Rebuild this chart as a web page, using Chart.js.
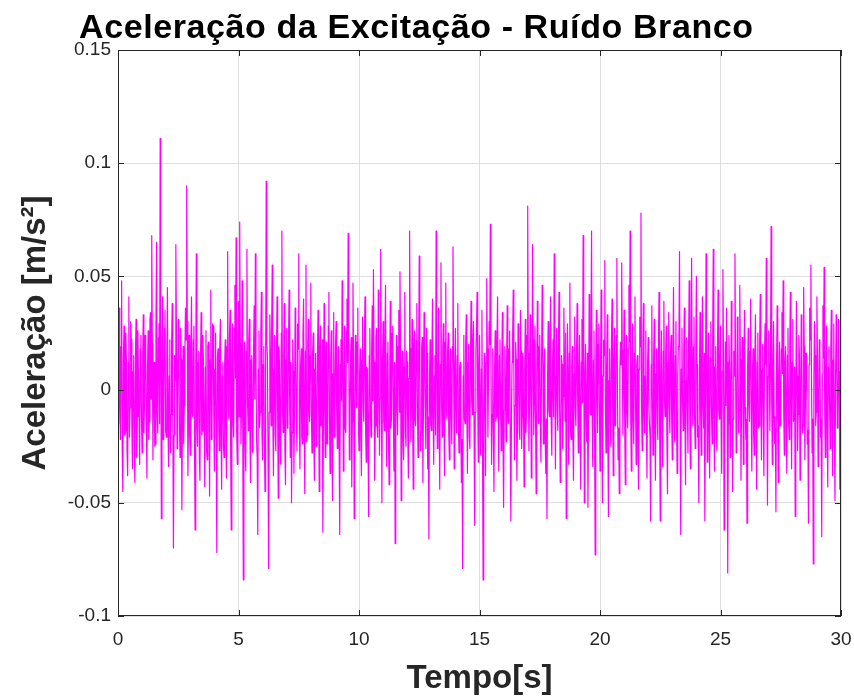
<!DOCTYPE html>
<html>
<head>
<meta charset="utf-8">
<script src="https://cdn.jsdelivr.net/npm/chart.js@4"></script>
<style>
  html, body { margin: 0; padding: 0; background: #fff; }
  #wrap { width: 854px; height: 697px; }
</style>
</head>
<body>
<div id="wrap"><canvas id="noiseChart" width="854" height="697"></canvas></div>
<script>
// ===== data (m/s^2, one sample every 0.025 s) =====
const chartTitle = 'Aceleração da Excitação - Ruído Branco';
const xLabel = 'Tempo[s]';
const yLabel = 'Aceleração [m/s²]';
const xTicks = [0, 5, 10, 15, 20, 25, 30];
const yTicks = [-0.1, -0.05, 0, 0.05, 0.1, 0.15];
const sampleStep = 0.025;

// one row = one second of signal
const accel = [
  -0.015, 0.010, 0.036, -0.008, -0.022, 0.019, 0.048, -0.026, -0.045, 0.014, 0.028, -0.020, -0.018, 0.025, 0.012, -0.027, -0.038, 0.012, 0.041, -0.021, -0.008, 0.030, 0.022, -0.016, -0.035, 0.008, 0.015, -0.024, -0.041, 0.017, 0.031, -0.030, -0.012, 0.026, 0.005, -0.011, -0.033, 0.018, 0.024, -0.013,
  -0.028, 0.015, 0.033, -0.019, -0.006, 0.024, 0.018, -0.012, -0.039, 0.009, 0.026, -0.022, -0.014, 0.031, 0.034, -0.004, 0.068, 0.020, -0.031, 0.006, 0.012, -0.025, -0.024, 0.028, 0.065, -0.010, -0.019, 0.023, 0.029, -0.015, 0.111, 0.019, -0.057, 0.008, 0.041, -0.022, -0.009, 0.027, 0.035, -0.018,
  -0.021, 0.012, 0.045, -0.017, -0.034, 0.006, 0.022, -0.028, -0.011, 0.021, 0.038, -0.013, -0.070, -0.020, 0.015, 0.004, 0.064, 0.025, -0.026, -0.009, 0.031, 0.018, -0.016, -0.030, 0.027, 0.013, -0.053, -0.011, 0.019, -0.024, -0.007, 0.016, 0.036, 0.022, 0.090, 0.030, -0.038, -0.014, 0.024, -0.021,
  -0.029, 0.018, 0.041, -0.010, -0.012, 0.022, 0.028, -0.026, -0.062, 0.007, 0.060, -0.016, -0.025, 0.012, 0.017, -0.029, -0.040, 0.015, 0.034, -0.020, -0.018, 0.024, 0.009, -0.014, -0.043, 0.010, 0.026, -0.027, -0.031, 0.019, 0.021, -0.008, -0.047, 0.013, 0.044, -0.022, -0.015, 0.029, 0.028, -0.012,
  -0.036, 0.009, 0.025, -0.021, -0.072, 0.014, 0.018, -0.012, -0.027, 0.020, 0.031, -0.018, -0.044, 0.006, 0.012, -0.025, -0.030, 0.011, 0.022, -0.016, -0.039, 0.019, 0.061, -0.007, -0.013, 0.023, 0.035, -0.028, -0.062, 0.010, 0.029, -0.014, -0.021, 0.027, 0.046, 0.005, 0.067, -0.019, -0.033, 0.016,
  0.039, -0.012, 0.074, 0.020, -0.024, -0.009, 0.048, -0.015, -0.084, 0.008, 0.021, -0.023, -0.036, 0.017, 0.062, -0.006, -0.018, 0.022, 0.031, -0.019, -0.041, 0.013, 0.015, -0.027, -0.028, 0.018, 0.037, -0.004, 0.060, 0.012, -0.022, -0.030, -0.064, 0.009, 0.026, -0.017, -0.010, 0.024, 0.043, -0.020,
  -0.031, 0.011, 0.019, -0.024, -0.045, 0.006, 0.092, 0.021, 0.014, -0.028, -0.079, -0.010, 0.033, 0.015, -0.016, 0.026, 0.055, -0.013, -0.038, 0.009, 0.024, -0.020, -0.027, 0.016, 0.041, -0.011, -0.048, 0.019, 0.012, -0.022, -0.033, 0.025, 0.070, -0.008, -0.019, 0.014, 0.038, -0.026, -0.042, 0.013,
  0.027, -0.017, -0.015, 0.021, 0.044, -0.009, -0.030, 0.012, -0.050, -0.019, 0.022, 0.008, -0.037, -0.006, 0.036, 0.013, -0.011, -0.027, 0.029, 0.018, 0.060, -0.015, -0.035, 0.010, 0.018, -0.021, -0.024, 0.024, 0.040, -0.012, -0.046, 0.017, 0.055, -0.023, -0.020, 0.020, 0.031, -0.010, -0.014, 0.015,
  0.047, -0.011, -0.028, 0.016, 0.025, -0.020, -0.040, 0.009, 0.016, -0.025, -0.022, 0.014, 0.035, -0.007, -0.045, 0.019, 0.028, -0.016, -0.009, 0.022, -0.063, -0.013, 0.038, -0.006, -0.030, 0.017, 0.021, -0.024, -0.017, 0.028, 0.043, -0.012, -0.037, 0.011, 0.026, -0.018, -0.049, 0.007, 0.034, -0.021,
  -0.012, 0.019, 0.030, -0.010, -0.026, 0.008, 0.019, -0.023, -0.064, 0.011, 0.022, -0.005, 0.048, 0.013, -0.036, 0.004, 0.028, -0.017, -0.019, 0.026, 0.040, 0.012, 0.069, 0.020, -0.031, -0.009, 0.015, 0.023, -0.043, -0.014, 0.047, 0.010, -0.057, -0.019, 0.024, 0.006, -0.008, 0.021, 0.036, -0.016,
  -0.027, 0.007, 0.018, -0.018, -0.038, 0.013, 0.032, -0.008, -0.014, 0.022, 0.041, -0.019, -0.032, 0.010, 0.009, -0.024, -0.056, 0.015, 0.027, -0.011, -0.021, 0.018, 0.037, -0.005, 0.053, 0.012, -0.040, -0.016, 0.023, 0.027, -0.016, -0.021, 0.044, 0.009, -0.029, -0.004, 0.062, 0.014, -0.050, 0.011,
  0.030, -0.014, -0.018, 0.020, 0.046, -0.011, -0.034, 0.016, 0.021, -0.023, -0.042, 0.008, 0.039, -0.017, -0.012, 0.025, 0.028, -0.009, -0.036, 0.012, -0.068, -0.015, 0.024, -0.006, -0.020, 0.019, 0.035, -0.010, 0.052, 0.014, -0.049, 0.006, 0.017, -0.022, -0.031, 0.010, 0.043, -0.018, -0.025, 0.017,
  0.012, -0.021, -0.039, 0.005, 0.070, 0.018, -0.023, -0.006, 0.031, -0.012, -0.044, 0.020, 0.026, -0.013, -0.016, 0.022, 0.038, -0.008, -0.030, 0.014, 0.059, 0.009, -0.027, -0.019, 0.019, 0.023, -0.041, -0.007, 0.034, 0.010, -0.010, -0.026, 0.027, 0.016, -0.035, -0.012, -0.066, 0.004, 0.022, -0.015,
  -0.018, 0.013, 0.040, -0.010, -0.033, 0.006, 0.015, -0.020, 0.070, 0.017, -0.026, 0.008, 0.036, -0.014, -0.044, 0.011, 0.056, -0.006, -0.021, 0.018, 0.029, -0.012, -0.038, 0.021, 0.047, -0.009, -0.013, 0.016, 0.025, -0.020, -0.031, 0.007, 0.018, -0.011, -0.024, 0.019, 0.063, 0.012, -0.035, 0.009,
  0.027, -0.008, -0.019, 0.015, 0.038, -0.016, -0.028, 0.010, 0.012, -0.018, -0.041, -0.022, -0.079, 0.006, 0.024, -0.013, -0.015, 0.019, 0.033, -0.009, -0.037, 0.012, 0.020, -0.021, -0.026, 0.014, 0.039, -0.005, -0.011, 0.022, 0.030, -0.017, -0.060, -0.010, 0.018, 0.026, 0.043, -0.004, -0.032, 0.011,
  0.024, -0.013, -0.029, 0.009, 0.035, -0.024, -0.084, -0.015, 0.016, -0.006, -0.038, 0.012, 0.049, 0.018, -0.021, 0.007, 0.030, 0.020, 0.073, 0.014, -0.033, -0.011, 0.018, -0.017, -0.045, 0.008, 0.026, -0.014, -0.012, 0.021, 0.041, -0.010, -0.036, 0.015, 0.022, -0.008, -0.027, 0.011, 0.034, -0.020,
  -0.052, -0.009, 0.019, 0.004, -0.023, 0.012, 0.037, -0.011, -0.015, 0.018, 0.026, -0.020, -0.058, -0.014, 0.012, 0.023, 0.044, 0.010, -0.031, -0.007, 0.021, 0.013, -0.040, -0.016, 0.029, 0.006, -0.018, -0.022, 0.035, 0.017, -0.026, -0.012, 0.016, -0.005, -0.043, 0.009, 0.031, -0.019, -0.010, 0.024,
  0.081, 0.016, -0.027, -0.006, 0.033, 0.010, -0.039, -0.018, 0.064, 0.022, -0.020, -0.004, 0.028, -0.011, -0.046, 0.007, 0.039, 0.014, -0.015, 0.019, 0.024, -0.016, -0.032, 0.011, 0.046, 0.020, -0.024, 0.008, 0.018, -0.021, -0.037, -0.013, -0.057, 0.005, 0.030, -0.009, -0.012, 0.018, 0.041, -0.014,
  -0.029, 0.008, 0.022, -0.012, 0.060, 0.017, -0.035, 0.006, 0.027, -0.010, -0.018, 0.021, 0.043, -0.008, -0.041, -0.019, 0.015, 0.011, -0.026, -0.003, 0.036, 0.012, -0.014, 0.025, -0.057, -0.013, 0.029, 0.004, -0.033, 0.016, 0.047, -0.018, -0.022, 0.010, 0.019, -0.021, -0.040, 0.007, 0.032, -0.009,
  -0.016, 0.014, 0.038, -0.007, -0.028, 0.009, 0.024, -0.015, -0.044, 0.012, 0.031, -0.006, 0.068, 0.018, -0.050, 0.005, 0.020, -0.012, -0.023, 0.016, -0.052, -0.010, 0.042, 0.008, -0.011, 0.022, 0.070, -0.014, -0.034, 0.013, 0.026, -0.019, -0.073, 0.011, 0.035, -0.004, -0.019, 0.020, 0.029, -0.008,
  -0.036, 0.012, 0.044, -0.011, -0.050, 0.006, 0.022, 0.015, 0.057, -0.007, -0.028, 0.010, 0.033, -0.019, -0.056, 0.004, 0.018, -0.014, -0.025, 0.020, 0.040, -0.009, -0.038, 0.013, 0.027, -0.016, -0.014, 0.024, 0.058, -0.003, -0.031, -0.017, -0.046, 0.008, 0.021, 0.011, 0.056, 0.017, -0.020, 0.010,
  0.035, -0.015, -0.042, 0.007, 0.024, -0.010, -0.017, 0.018, 0.046, 0.021, 0.070, -0.012, -0.036, 0.008, 0.029, -0.013, -0.024, 0.016, 0.041, -0.006, -0.033, 0.011, 0.015, -0.020, -0.044, 0.009, 0.032, 0.019, 0.078, -0.008, -0.027, 0.014, 0.038, -0.011, -0.019, 0.006, 0.026, -0.018, -0.039, 0.012,
  0.023, -0.006, -0.015, -0.020, -0.058, 0.011, 0.037, -0.009, -0.029, 0.014, 0.031, -0.016, -0.040, 0.007, 0.018, -0.012, -0.022, 0.021, 0.043, -0.018, -0.058, 0.005, 0.026, -0.011, -0.034, 0.017, 0.039, -0.004, -0.012, 0.015, 0.028, -0.021, -0.046, 0.012, 0.034, -0.008, -0.019, 0.016, 0.024, -0.013,
  -0.031, 0.010, 0.045, -0.008, -0.023, 0.015, 0.030, -0.014, -0.037, 0.006, 0.019, 0.022, 0.061, -0.010, -0.064, 0.009, 0.027, -0.005, -0.018, 0.017, 0.036, -0.013, -0.042, 0.004, 0.023, -0.009, -0.028, 0.018, 0.048, -0.011, -0.035, 0.013, 0.058, 0.007, -0.016, 0.019, 0.032, -0.012, -0.026, 0.020,
  0.050, 0.011, -0.021, -0.016, -0.050, 0.005, 0.034, -0.010, -0.029, 0.013, 0.041, -0.007, -0.017, 0.016, -0.058, -0.011, 0.060, 0.012, -0.032, 0.006, 0.025, -0.018, -0.039, 0.014, 0.030, -0.008, -0.024, 0.021, 0.062, -0.006, -0.036, 0.010, 0.019, -0.015, -0.027, 0.018, 0.044, -0.009, -0.013, 0.015,
  0.028, -0.010, -0.037, 0.008, 0.053, 0.014, -0.062, -0.019, 0.021, -0.007, 0.036, 0.012, -0.081, -0.015, 0.024, 0.009, -0.030, -0.004, 0.039, 0.020, -0.045, -0.013, 0.017, 0.006, 0.060, 0.011, -0.028, -0.016, 0.032, 0.022, -0.019, -0.009, 0.046, 0.013, -0.040, -0.005, 0.023, 0.007, -0.033, 0.018,
  0.035, -0.008, -0.022, -0.013, -0.059, 0.010, 0.027, -0.006, -0.014, 0.017, 0.040, -0.011, -0.036, 0.007, 0.018, -0.020, -0.029, 0.014, 0.033, -0.009, -0.044, 0.012, 0.025, -0.017, -0.016, 0.021, 0.042, -0.005, -0.031, 0.009, 0.020, -0.014, -0.038, 0.016, 0.029, 0.011, 0.058, -0.010, -0.051, 0.006,
  0.026, 0.009, -0.018, 0.014, 0.072, -0.005, -0.033, 0.011, 0.030, -0.012, -0.024, -0.017, -0.054, 0.010, 0.037, -0.013, -0.041, 0.005, 0.021, -0.016, -0.015, 0.018, 0.034, 0.007, 0.048, -0.011, -0.029, 0.013, 0.019, -0.008, -0.037, 0.015, 0.027, -0.014, -0.022, 0.020, 0.043, -0.006, -0.035, 0.012,
  0.031, -0.014, -0.012, 0.010, -0.056, -0.009, 0.039, 0.006, -0.027, -0.011, 0.024, 0.015, -0.040, -0.007, 0.033, 0.012, -0.019, -0.016, 0.045, 0.019, -0.031, -0.004, 0.016, 0.008, -0.024, -0.018, -0.059, 0.011, 0.036, 0.022, 0.055, 0.009, -0.028, -0.013, -0.077, 0.004, 0.030, 0.015, -0.016, -0.010,
  0.041, 0.012, -0.034, -0.008, 0.022, 0.016, -0.021, -0.013, -0.065, 0.007, 0.037, 0.014, 0.054, -0.011, -0.030, 0.009, 0.028, -0.015, -0.043, 0.010, 0.019, -0.006, -0.026, 0.017, 0.035, -0.009, -0.038, 0.013, 0.029, -0.018, -0.049, 0.006, 0.033, 0.011, -0.017, -0.012, 0.031, 0.008, -0.044, -0.015,
  -0.053
];

const points = accel.map((v, i) => ({ x: i * sampleStep, y: v }));

const axisColor = '#262626';
const gridColor = '#dedede';
const fontFamily = '"Liberation Sans", Arial, Helvetica, sans-serif';

// title drawn by hand so it can sit where matlab put it
const titlePlugin = {
  id: 'matlabTitle',
  afterDraw(chart) {
    const ctx = chart.ctx;
    ctx.save();
    ctx.font = 'bold 34px ' + fontFamily;
    ctx.fillStyle = '#000';
    ctx.textAlign = 'left';
    ctx.textBaseline = 'alphabetic';
    if ('letterSpacing' in ctx) ctx.letterSpacing = '0.6px';
    ctx.fillText(chartTitle, 79, 38);
    ctx.restore();
  }
};

// box round the axes + inward ticks on all four sides
const boxPlugin = {
  id: 'matlabBox',
  afterDatasetsDraw(chart) {
    const { ctx, chartArea: a, scales: { x, y } } = chart;
    const tick = 6;
    ctx.save();
    ctx.strokeStyle = axisColor;
    ctx.lineWidth = 1;
    ctx.beginPath();
    xTicks.forEach(t => {
      const px = Math.round(x.getPixelForValue(t)) + 0.5;
      ctx.moveTo(px, a.bottom); ctx.lineTo(px, a.bottom - tick);
      ctx.moveTo(px, a.top); ctx.lineTo(px, a.top + tick);
    });
    yTicks.forEach(t => {
      const py = Math.round(y.getPixelForValue(t)) + 0.5;
      ctx.moveTo(a.left, py); ctx.lineTo(a.left + tick, py);
      ctx.moveTo(a.right, py); ctx.lineTo(a.right - tick, py);
    });
    ctx.stroke();
    ctx.strokeRect(Math.round(a.left) + 0.5, Math.round(a.top) + 0.5,
      Math.round(a.right - a.left) - 1, Math.round(a.bottom - a.top) - 1);
    ctx.restore();
  }
};

new Chart(document.getElementById('noiseChart'), {
  type: 'line',
  data: {
    datasets: [{
      label: 'Aceleração',
      data: points,
      borderColor: '#ff00ff',
      borderWidth: 1.2,
      borderJoinStyle: 'round',
      pointRadius: 0,
      tension: 0,
      fill: false
    }]
  },
  options: {
    responsive: false,
    animation: false,
    events: [],
    layout: { padding: { top: 50, right: 0, left: 0, bottom: 0 } },
    plugins: {
      legend: { display: false },
      title: { display: false },
      tooltip: { enabled: false }
    },
    scales: {
      x: {
        type: 'linear',
        min: 0,
        max: 30,
        afterFit(s) { s.height = 81; s.paddingRight = 13; s.paddingLeft = 0; },
        afterBuildTicks(s) { s.ticks = xTicks.map(v => ({ value: v })); },
        grid: { color: gridColor, drawTicks: false },
        border: { display: false },
        ticks: {
          color: axisColor,
          padding: 12,
          maxRotation: 0,
          font: { family: fontFamily, size: 19 },
          callback: v => String(v)
        },
        title: {
          display: true,
          text: xLabel,
          color: axisColor,
          padding: { top: 0, bottom: 2 },
          font: { family: fontFamily, size: 33, weight: 'bold', lineHeight: 1 }
        }
      },
      y: {
        type: 'linear',
        min: -0.1,
        max: 0.15,
        afterFit(s) { s.width = 118; },
        afterBuildTicks(s) { s.ticks = yTicks.map(v => ({ value: v })); },
        grid: { color: gridColor, drawTicks: false },
        border: { display: false },
        ticks: {
          color: axisColor,
          padding: 7,
          font: { family: fontFamily, size: 19 },
          callback: v => String(+Number(v).toFixed(2))
        },
        title: {
          display: true,
          text: yLabel,
          color: axisColor,
          padding: { top: 19, bottom: 0 },
          font: { family: fontFamily, size: 33, weight: 'bold', lineHeight: 1 }
        }
      }
    }
  },
  plugins: [boxPlugin, titlePlugin]
});
</script>
</body>
</html>
